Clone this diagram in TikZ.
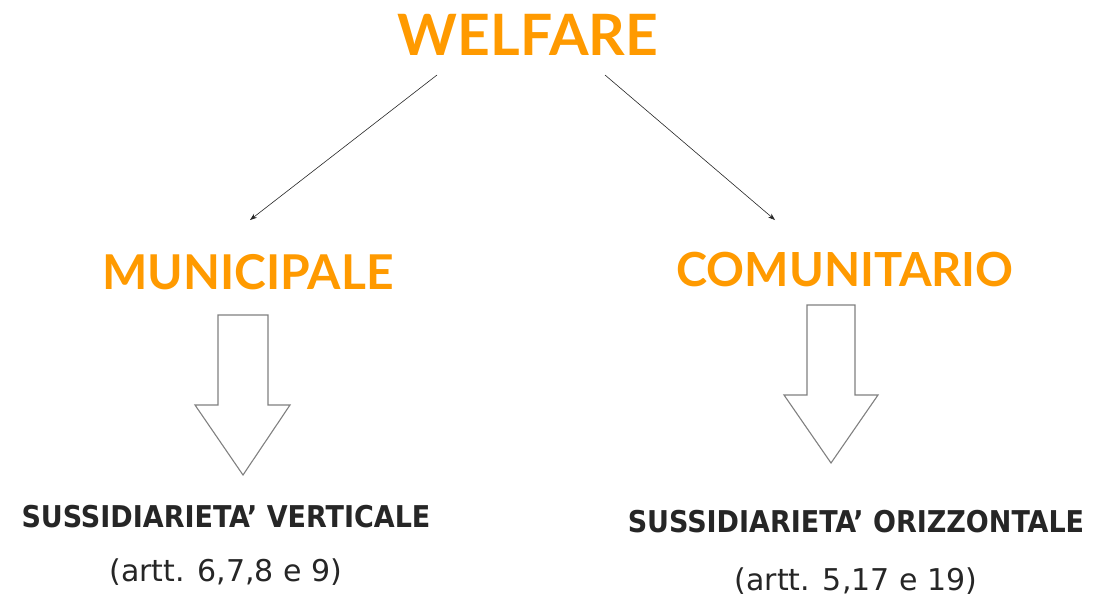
\documentclass[tikz,border=0pt]{standalone}
\usepackage{fontspec}
\setmainfont{Lato}
\newfontfamily\blackfont{DejaVu Sans Condensed}
\newfontfamily\widefont{DejaVu Sans}
\usetikzlibrary{arrows.meta}
\definecolor{orng}{HTML}{FF9A00}
\tikzset{
  title/.style={font=\bfseries\fontsize{#1}{#1}\selectfont, text=orng, inner sep=0pt},
  blacktext/.style={font=\blackfont\bfseries\fontsize{#1}{#1}\selectfont, text=black!85, inner sep=0pt},
  reftext/.style={font=\widefont\fontsize{#1}{#1}\selectfont, text=black!85, inner sep=0pt},
  conn/.style={-{Stealth[length=7pt,width=5pt]}, line width=0.6pt, black!85},
  blockarrow/.style={draw=black!50, line width=1.1pt, fill=white, line join=miter}
}
\begin{document}
\begin{tikzpicture}[x=1pt,y=-1pt]
\useasboundingbox (0,0) rectangle (1099,598);
\node[title=57] (welfare) at (528,35) {WELFARE};
\node[title=48] (muni) at (248,272) {MUNICIPALE};
\node[title=47] (comu) at (845,270) {COMUNITARIO};
% connectors
\coordinate (l1) at (437,75);
\coordinate (l2) at (250,220);
\coordinate (r1) at (605,75);
\coordinate (r2) at (775,220);
\draw[conn] (l1) -- (l2);
\draw[conn] (r1) -- (r2);
% block arrows
\draw[blockarrow] (218,315) -- (268,315) -- (268,405) -- (290,405) -- (243,475) -- (195,405) -- (218,405) -- cycle;
\draw[blockarrow] (807,305) -- (855,305) -- (855,395) -- (878,395) -- (831,463) -- (784,395) -- (807,395) -- cycle;
% lower texts
\node[blacktext=30] (sv) at (226,517) {SUSSIDIARIETA’ VERTICALE};
\node[blacktext=30] (so) at (856,522) {SUSSIDIARIETA’ ORIZZONTALE};
\node[reftext=30] (av) at (226,572) {(artt. 6,7,8 e 9)};
\node[reftext=30] (ao) at (856,581) {(artt. 5,17 e 19)};
\end{tikzpicture}
\end{document}
